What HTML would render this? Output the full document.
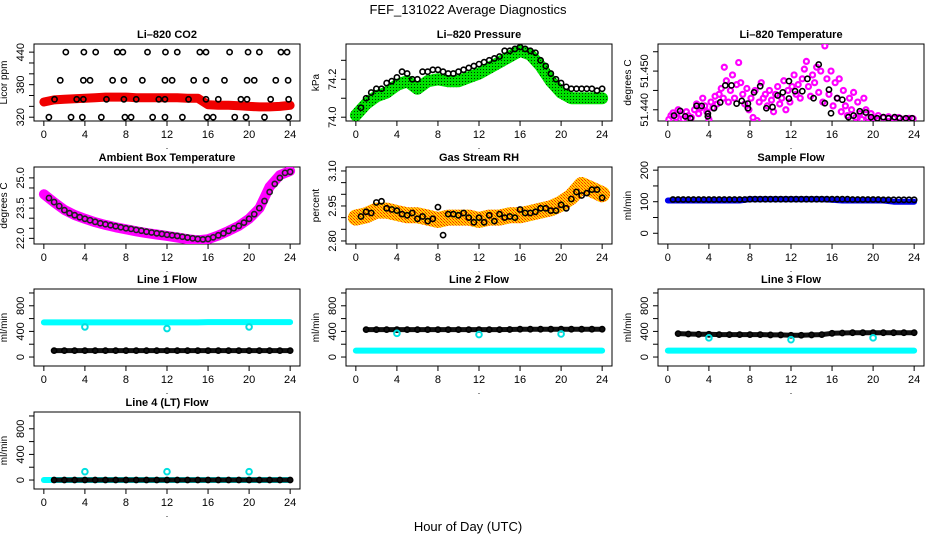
<!DOCTYPE html>
<html><head><meta charset="utf-8"><style>
body{margin:0;background:#fff}
svg{display:block;font-family:"Liberation Sans",sans-serif}
</style></head><body>
<svg id="c" width="936" height="540" viewBox="0 0 936 540">
<defs>
<pattern id="pg" width="3" height="3" patternUnits="userSpaceOnUse"><rect width="3" height="3" fill="#00e000"/><rect width="1" height="1" fill="#003300"/></pattern>
<pattern id="po" width="3" height="3" patternUnits="userSpaceOnUse"><rect width="3" height="3" fill="#ffd000"/><rect width="1" height="1" fill="#ff2000"/><rect x="1" y="1" width="1" height="1" fill="#ff7000"/><rect x="2" y="2" width="1" height="1" fill="#ff3000"/></pattern>
</defs>
<text x="468" y="14" text-anchor="middle" font-size="13">FEF_131022  Average Diagnostics</text>
<text x="468" y="531" text-anchor="middle" font-size="13">Hour of Day (UTC)</text>
</svg>
<script>
// ---- data ----
const xTicks=[0,4,8,12,16,20,24];
const hourly=[0,1,2,3,4,5,6,7,8,9,10,11,12,13,14,15,16,17,18,19,20,21,22,23,24];
const halfHours=[0.5,1,1.5,2,2.5,3,3.5,4,4.5,5,5.5,6,6.5,7,7.5,8,8.5,9,9.5,10,10.5,11,11.5,12,12.5,13,13.5,14,14.5,15,15.5,16,16.5,17,17.5,18,18.5,19,19.5,20,20.5,21,21.5,22,22.5,23,23.5,24];
// CO2
const co2Band=[348,352,353,354,355,356,357,357,357,356,356,356,356,356,355,355,343,342,342,341,340,339,339,340,342];
const co2T=[2.14,3.9,5.05,7.15,7.7,10.1,11.85,13.0,15.2,15.8,18.1,19.9,21.0,23.1,23.7, 1.6,3.85,4.5,6.7,7.8,9.6,11.8,12.5,14.6,15.8,17.6,19.8,20.5,22.6,23.8, 1.04,3.2,3.85,6.1,7.8,9.0,11.2,11.8,14.1,15.8,17.0,19.2,19.8,22.1,23.85, 0.49,2.65,3.75,5.6,7.9,8.5,10.6,11.8,13.5,15.9,16.5,18.6,19.7,21.5,23.85];
const co2V=[440,440,440,440,440,440,440,440,440,440,440,440,440,440,440, 388,388,388,388,388,388,388,388,388,388,388,388,388,388,388, 353,353,353,353,353,353,353,353,353,353,353,353,353,353,353, 320,320,320,320,320,320,320,320,320,320,320,320,320,320,320];
// Pressure
const presBand=[74.01,74.07,74.11,74.13,74.17,74.19,74.15,74.19,74.2,74.19,74.19,74.21,74.23,74.26,74.29,74.32,74.35,74.33,74.27,74.19,74.13,74.1,74.1,74.1,74.1];
const presPts=[74.05,74.1,74.13,74.15,74.15,74.18,74.19,74.21,74.24,74.23,74.2,74.2,74.24,74.24,74.25,74.25,74.24,74.23,74.23,74.24,74.25,74.26,74.27,74.28,74.29,74.3,74.31,74.32,74.35,74.35,74.36,74.37,74.36,74.35,74.34,74.3,74.27,74.23,74.2,74.18,74.16,74.15,74.15,74.15,74.15,74.15,74.14,74.15];
// Li-820 temperature
const magT=[0.1,0.3,0.5,0.8,1.0,1.3,1.5,1.8,2.0,2.3,2.6,2.8,3.0,3.2,3.4,3.6,3.8,4.0,4.2,4.4,4.6,4.8,5.0,5.2,5.4,5.5,5.7,5.9,6.1,6.3,6.5,6.7,6.9,7.1,7.3,7.5,7.7,7.9,8.1,8.3,8.5,8.7,8.9,9.1,9.3,9.5,9.7,9.9,10.1,10.3,10.5,10.7,10.9,11.1,11.3,11.5,11.7,11.9,12.1,12.3,12.5,12.7,12.9,13.1,13.3,13.5,13.7,13.9,14.1,14.3,14.5,14.7,14.9,15.1,15.3,15.5,15.7,15.9,16.1,16.3,16.5,16.7,16.9,17.1,17.3,17.5,17.7,17.9,18.1,18.3,18.5,18.7,18.9,19.1,19.3,19.5,19.8,20.1,20.5,21.0,21.5,22.0,22.5,23.0,23.5,23.9];
const magV=[51.4375,51.4385,51.4392,51.438,51.44,51.4388,51.4376,51.4395,51.4385,51.438,51.44,51.4415,51.439,51.4405,51.443,51.441,51.4395,51.4375,51.442,51.4405,51.4435,51.4415,51.444,51.4455,51.443,51.451,51.4475,51.442,51.445,51.449,51.443,51.4465,51.4522,51.447,51.444,51.4415,51.4455,51.44,51.443,51.438,51.445,51.4372,51.442,51.447,51.443,51.444,51.441,51.445,51.4425,51.4395,51.444,51.446,51.4415,51.443,51.4475,51.44,51.445,51.442,51.446,51.449,51.444,51.4465,51.443,51.448,51.4505,51.4525,51.446,51.4435,51.449,51.447,51.451,51.4445,51.45,51.442,51.4565,51.448,51.444,51.45,51.441,51.447,51.443,51.448,51.4395,51.445,51.441,51.4385,51.443,51.44,51.4445,51.438,51.442,51.439,51.4375,51.443,51.44,51.438,51.439,51.4378,51.4385,51.438,51.4382,51.4378,51.438,51.4376,51.4378,51.4377];
const tempT=[0.6,1.2,1.7,2.2,2.8,3.3,3.9,3.9,4.5,5.1,5.6,6.2,6.7,7.2,7.8,7.8,8.4,9.0,9.6,10.2,10.7,11.2,11.8,11.8,12.4,13.1,13.6,14.2,14.7,15.3,15.7,15.9,16.5,17.0,17.6,18.1,18.7,19.3,19.8,20.4,21.0,21.5,22.1,22.6,23.2,23.8];
const tempV=[51.4385,51.4397,51.4383,51.4378,51.441,51.441,51.4383,51.439,51.4404,51.4419,51.4463,51.4463,51.4416,51.4423,51.4416,51.4404,51.4445,51.4461,51.4404,51.4407,51.4437,51.4445,51.4474,51.4429,51.4448,51.4448,51.448,51.443,51.4517,51.4417,51.4452,51.4391,51.443,51.4426,51.4381,51.4385,51.4396,51.4393,51.4381,51.4378,51.4381,51.4378,51.4381,51.4378,51.4378,51.4378];
// Ambient box temperature
const ambBand=[24.19,23.79,23.41,23.16,22.97,22.8,22.67,22.55,22.45,22.35,22.26,22.19,22.12,22.04,21.96,21.9,21.96,22.14,22.37,22.62,22.97,23.49,24.56,25.14,25.34];
const ambPts=[24.0,23.8,23.6,23.4,23.25,23.15,23.05,22.97,22.9,22.82,22.75,22.7,22.65,22.6,22.55,22.5,22.47,22.42,22.38,22.33,22.29,22.25,22.22,22.18,22.15,22.12,22.08,22.04,22.0,21.97,21.95,21.97,22.05,22.15,22.25,22.37,22.5,22.62,22.78,22.97,23.2,23.5,23.85,24.3,24.7,25.0,25.25,25.3];
// Gas stream RH
const rhBand=[2.9,2.91,2.93,2.93,2.92,2.91,2.91,2.9,2.89,2.9,2.9,2.9,2.89,2.9,2.9,2.91,2.91,2.92,2.93,2.94,2.96,2.99,3.04,3.02,3.0];
const rhPts=[2.905,2.925,2.92,2.965,2.97,2.94,2.935,2.93,2.915,2.91,2.92,2.895,2.905,2.885,2.895,2.945,2.825,2.915,2.915,2.91,2.92,2.9,2.88,2.9,2.88,2.91,2.885,2.915,2.9,2.905,2.9,2.935,2.92,2.92,2.925,2.94,2.94,2.93,2.93,2.955,2.94,2.98,3.01,2.995,3.005,3.02,3.02,2.985];
// Sample flow
const sfBand=[104,104,104,104,104,104,104,104,108,108,108,108,108,108,108,108,106,104,104,104,104,104,100,100,100];
const sfPts=[107,107,107,107,107,107,107,107,107,107,107,107,107,107,107,108,108,108,108,108,108,108,108,108,108,108,108,108,108,108,108,108,108,108,108,107,107,107,107,107,107,106,106,106,106,106,106,106];
// Line flows
const l1Cyan=[540,540,540,540,540,540,540,540,540,540,540,540,540,540,540,540,545,545,545,545,545,545,545,545,545];
const l1Black=[100,100,100,100,100,100,100,100,100,100,100,100,100,100,100,100,100,100,100,100,100,100,100,100,100];
const l2Cyan=[100,100,100,100,100,100,100,100,100,100,100,100,100,100,100,100,100,100,100,100,100,100,100,100,100];
const l2Black=[430,428,428,428,428,428,428,428,428,428,428,428,428,428,428,430,435,435,435,435,435,435,435,435,435];
const l3Cyan=[100,100,100,100,100,100,100,100,100,100,100,100,100,100,100,100,100,100,100,100,100,100,100,100,100];
const l3Black=[370,365,360,355,355,350,350,350,350,350,345,345,340,340,345,350,370,375,380,380,380,380,380,380,380];
const l4Cyan=[0,0,0,0,0,0,0,0,0,0,0,0,0,0,0,0,0,0,0,0,0,0,0,0,0];
const l4Black=[0,0,0,0,0,0,0,0,0,0,0,0,0,0,0,0,0,0,0,0,0,0,0,0,0];
const outT=[4,12,20];
const l1Out=[470,445,470];
const l2Out=[370,350,360];
const l3Out=[300,270,300];
const l4Out=[130,130,130];
const flowTicks=[0,200,400,600,800,1000];
const flowLabels=["0","","400","","800",""];

const svg=document.getElementById('c');
const NS='http://www.w3.org/2000/svg';
function mk(tag,attrs,parent){const e=document.createElementNS(NS,tag);for(const k in attrs)e.setAttribute(k,attrs[k]);(parent||svg).appendChild(e);return e;}
const colL=[34,346,658], rowT=[44,167,289,412], W=266, H=77;

function panel(name,col,row,title,ytitle,ymin,ymax,yt,yl){
  const L=colL[col],T=rowT[row];
  const g=mk('g',{});
  
  
  const xs=t=>L+W*(t+0.96)/25.92;
  const ys=v=>T+H-H*(v-ymin)/(ymax-ymin);
  const r=mk('rect',{x:L,y:T,width:W,height:H,fill:'none',stroke:'#000','stroke-width':1},g);
  
  
  const tt=mk('text',{x:L+W/2,y:T-6,'text-anchor':'middle','font-size':11,'font-weight':'bold'},g);
  tt.textContent=title;
  
  
  const yx=L-27, yy=T+H/2;
  const yt2=mk('text',{x:yx,y:yy,'text-anchor':'middle','font-size':10,transform:`rotate(-90 ${yx} ${yy})`},g);
  yt2.textContent=ytitle;
  
  
  const xa=mk('g',{},g);
  
  
  mk('line',{x1:xs(xTicks[0]),x2:xs(xTicks[xTicks.length-1]),y1:T+H,y2:T+H,stroke:'#000'},xa);
  xTicks.forEach(t=>{mk('line',{x1:xs(t),x2:xs(t),y1:T+H,y2:T+H+5,stroke:'#000'},xa);
    const lb=mk('text',{x:xs(t),y:T+H+17,'text-anchor':'middle','font-size':11},xa);lb.textContent=t;});
  const dot=mk('text',{x:L+W/2,y:T+H+28,'text-anchor':'middle','font-size':9},xa);dot.textContent='.';
  const ya=mk('g',{},g);
  
  
  mk('line',{x1:L,x2:L,y1:ys(yt[0]),y2:ys(yt[yt.length-1]),stroke:'#000'},ya);
  yt.forEach((v,i)=>{const y=ys(v);mk('line',{x1:L-5,x2:L,y1:y,y2:y,stroke:'#000'},ya);
    if(yl[i]){const x=L-10;const lb=mk('text',{x:x,y:y,'text-anchor':'middle','font-size':11,transform:`rotate(-90 ${x} ${y})`},ya);lb.textContent=yl[i];}});
  const clip='cl'+name;
  const cp=mk('clipPath',{id:clip},g);mk('rect',{x:L,y:T,width:W,height:H},cp);
  const d=mk('g',{'clip-path':`url(#${clip})`},g);
  return {xs,ys,d};
}
function band(p,name,ts,vs,color,w){
  const pts=ts.map((t,i)=>p.xs(t).toFixed(1)+','+p.ys(vs[i]).toFixed(1)).join(' ');
  const e=mk('polyline',{points:pts,fill:'none',stroke:color,'stroke-width':w,'stroke-linejoin':'round','stroke-linecap':'round'},p.d);
  
  
}
function circles(p,name,ts,vs,color,r,sw){
  const g=mk('g',{},p.d);
  
  
  ts.forEach((t,i)=>{mk('circle',{cx:p.xs(t),cy:p.ys(vs[i]),r:r||2.6,fill:'none',stroke:color,'stroke-width':sw||1.6},g);});
}

// CO2
let p=panel('co2',0,0,'Li–820 CO2','Licor ppm',313,455,[320,340,360,380,400,420,440],['320','','','380','','','440']);
band(p,'co2-band',hourly,co2Band,'#f00000',9);
circles(p,'co2-points',co2T,co2V,'#000');
// Pressure
p=panel('pressure',1,0,'Li–820 Pressure','kPa',73.98,74.386,[74.0,74.1,74.2,74.3],['74.0','','74.2','']);
band(p,'pressure-band',hourly,presBand,'url(#pg)',12);
circles(p,'pressure-points',halfHours,presPts,'#000');
// Temperature
p=panel('temperature',2,0,'Li–820 Temperature','degrees C',51.4371,51.457,[51.440,51.445,51.450,51.455],['51.440','','51.450','']);
circles(p,'temperature-raw-points',magT,magV,'#ff00ff',2.5,2.2);
circles(p,'temperature-points',tempT,tempV,'#000');
// Ambient
p=panel('ambient',0,1,'Ambient Box Temperature','degrees C',21.72,25.54,[22.0,22.5,23.0,23.5,24.0,24.5,25.0],['22.0','','','23.5','','','25.0']);
band(p,'ambient-band',hourly,ambBand,'#ff00ff',10);
circles(p,'ambient-points',halfHours,ambPts,'#222');
// RH
p=panel('rh',1,1,'Gas Stream RH','percent',2.787,3.117,[2.80,2.85,2.90,2.95,3.00,3.05,3.10],['2.80','','','2.95','','','3.10']);
band(p,'rh-band',hourly,rhBand,'url(#po)',16);
circles(p,'rh-points',halfHours,rhPts,'#000');
// Sample flow
p=panel('sample-flow',2,1,'Sample Flow','ml/min',-34,210,[0,50,100,150,200],['0','','100','','200']);
band(p,'sample-flow-band',hourly,sfBand,'#0000ee',6);
circles(p,'sample-flow-points',halfHours,sfPts,'#000');
// Line flows
const flows=[['line1-flow',0,2,'Line 1 Flow',l1Cyan,l1Black,l1Out],['line2-flow',1,2,'Line 2 Flow',l2Cyan,l2Black,l2Out],['line3-flow',2,2,'Line 3 Flow',l3Cyan,l3Black,l3Out],['line4-flow',0,3,'Line 4 (LT) Flow',l4Cyan,l4Black,l4Out]];
flows.forEach(f=>{
  const q=panel(f[0],f[1],f[2],f[3],'ml/min',-140,1062,flowTicks,flowLabels);
  band(q,f[0]+'-cyan-band',hourly,f[4],'#00ffff',6);
  band(q,f[0]+'-black-band',hourly.slice(1),f[5].slice(1),'#111',5);
  circles(q,f[0]+'-black-points',hourly.slice(1),f[5].slice(1),'#000',2.6,1.6);
  circles(q,f[0]+'-cyan-outliers',outT,f[6],'#00e0e0',2.8,2);
});
</script>
</body></html>
